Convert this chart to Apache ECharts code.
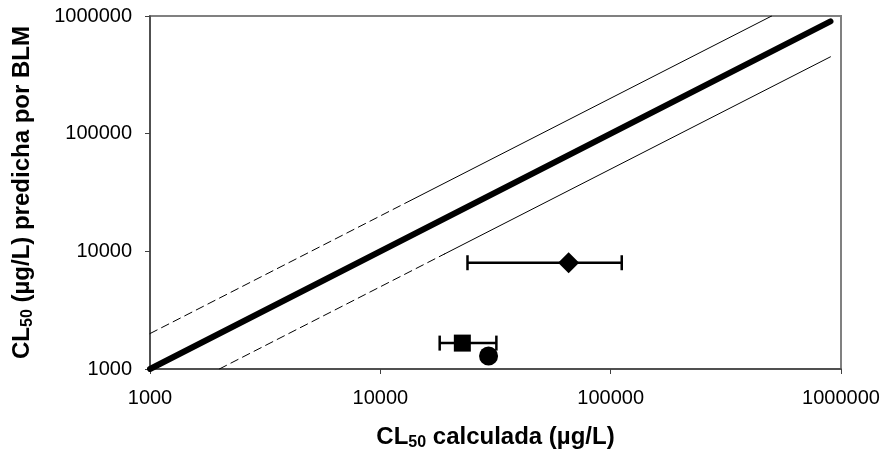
<!DOCTYPE html>
<html>
<head>
<meta charset="utf-8">
<script src="https://cdn.jsdelivr.net/npm/echarts@6/dist/echarts.min.js"></script>
<style>
html,body{margin:0;padding:0;background:#fff;}
#chart{width:885px;height:456px;}
</style>
</head>
<body>
<div id="chart"></div>
<script>
// ---- data ----
const oneToOneLine = [[1000, 1000], [900000, 900000]];
const upperDashed = [[1000, 2000], [13500, 27000]];
const upperSolid = [[13500, 27000], [500000, 1000000]];
const lowerDashed = [[2000, 1000], [19000, 9500]];
const lowerSolid = [[19000, 9500], [900000, 450000]];

const pointSymbols = ['diamond', 'rect', 'circle'];
const pointSizes = [21, 17, 19];
const pointX = [65700, 22700, 29500];
const pointY = [8000, 1660, 1290];
const errLow = [23900, 18100, null];
const errHigh = [111700, 31900, null];

const axisMin = 1000;
const axisMax = 1000000;

// ---- chart ----
const chart = echarts.init(document.getElementById('chart'), null, {renderer: 'canvas'});
const font = 'Arial, "Liberation Sans", sans-serif';

function titleRich() {
  return {
    b: {fontFamily: font, fontSize: 24, fontWeight: 'bold', color: '#000', lineHeight: 28},
    s: {fontFamily: font, fontSize: 16, fontWeight: 'bold', color: '#000', lineHeight: 14, verticalAlign: 'bottom'}
  };
}

const series = [];
function lineSeries(data, width, type) {
  series.push({
    type: 'line', data: data, symbol: 'none', silent: true, z: 2,
    lineStyle: {color: '#000', width: width, type: type, cap: 'round', opacity: 1}
  });
}
lineSeries(oneToOneLine, 6, 'solid');
lineSeries(upperDashed, 1, [8, 5]);
lineSeries(upperSolid, 1, 'solid');
lineSeries(lowerDashed, 1, [8, 5]);
lineSeries(lowerSolid, 1, 'solid');

for (let i = 0; i < pointX.length; i++) {
  if (errLow[i] != null) {
    series.push({
      type: 'line', data: [[errLow[i], pointY[i]], [errHigh[i], pointY[i]]],
      symbol: 'rect', symbolSize: [2.5, 15], z: 3, silent: true,
      itemStyle: {color: '#000', opacity: 1},
      lineStyle: {color: '#000', width: 2.5, opacity: 1}
    });
  }
  series.push({
    type: 'scatter', data: [[pointX[i], pointY[i]]],
    symbol: pointSymbols[i], symbolSize: pointSizes[i], z: 4,
    itemStyle: {color: '#000', opacity: 1}
  });
}

function fmt(v) { return String(Math.round(v)); }

chart.setOption({
  animation: false,
  backgroundColor: '#fff',
  grid: {left: 150, right: 44, top: 16, bottom: 87, show: true, borderColor: '#808080', borderWidth: 2, backgroundColor: 'transparent'},
  xAxis: {
    type: 'log', logBase: 10, min: axisMin, max: axisMax,
    name: '{b|CL}{s|50}{b| calculada (µg/L)}',
    nameLocation: 'middle', nameGap: 54,
    nameTextStyle: {rich: titleRich()},
    axisLine: {show: true, onZero: false, lineStyle: {color: '#404040', width: 1.5}},
    axisTick: {show: true, inside: false, length: 5, lineStyle: {color: '#404040'}},
    minorTick: {show: false},
    splitLine: {show: false},
    axisLabel: {formatter: fmt, fontFamily: font, fontSize: 20, color: '#000', margin: 19}
  },
  yAxis: {
    type: 'log', logBase: 10, min: axisMin, max: axisMax,
    name: '{b|CL}{s|50}{b| (µg/L) predicha por BLM}',
    nameLocation: 'middle', nameGap: 114, nameRotate: 90,
    nameTextStyle: {rich: titleRich()},
    axisLine: {show: true, onZero: false, lineStyle: {color: '#404040', width: 1.5}},
    axisTick: {show: true, inside: false, length: 5, lineStyle: {color: '#404040'}},
    minorTick: {show: false},
    splitLine: {show: false},
    axisLabel: {formatter: fmt, fontFamily: font, fontSize: 20, color: '#000', margin: 18}
  },
  series: series
});
</script>
</body>
</html>
